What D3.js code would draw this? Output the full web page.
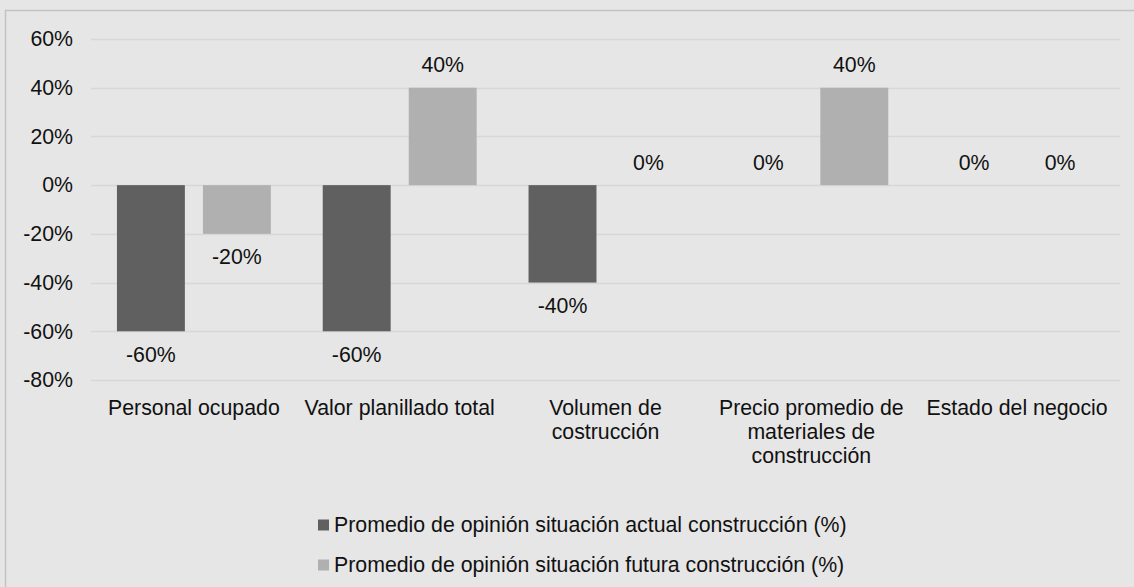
<!DOCTYPE html>
<html>
<head>
<meta charset="utf-8">
<script src="https://cdn.jsdelivr.net/npm/d3@7"></script>
<style>
  body { margin: 0; background: #e6e6e6; }
  svg { display: block; font-family: "Liberation Sans", Arial, sans-serif; }
</style>
</head>
<body>
<div id="chart"></div>
<script>
// data
var categories = ["Personal ocupado", "Valor planillado total", "Volumen de costrucción",
                  "Precio promedio de materiales de construcción", "Estado del negocio"];
var seriesNames = ["Promedio de opinión situación actual construcción (%)",
                   "Promedio de opinión situación futura construcción (%)"];
var actual = [-60, -60, -40, 0, 0];
var futura = [-20, 40, 0, 40, 0];
var yTicks = [-80, -60, -40, -20, 0, 20, 40, 60];

var palette = ["#606060", "#b0b0b0"];
var fs = 21.3;

var W = 1134, H = 587;
var plot = {left: 91, right: 1120, top: 39, bottom: 380};

var svg = d3.select("#chart").append("svg")
  .attr("width", W).attr("height", H);

// background + border (only top/left visible in the crop)
svg.append("rect").attr("x", 0).attr("y", 0).attr("width", W).attr("height", H).attr("fill", "#e6e6e6");
svg.append("path").attr("d", "M5.5," + H + "V10.5H" + W)
  .attr("fill", "none").attr("stroke", "#c3c3c3").attr("stroke-width", 1.5);

var x0 = d3.scaleBand().domain(categories).range([plot.left, plot.right]);
var bw = x0.bandwidth();
var x1 = d3.scaleBand().domain([0, 1]).range([bw * 0.126, bw * 0.874]).paddingInner(0.21);
var y = d3.scaleLinear().domain([-80, 60]).range([plot.bottom, plot.top]);

// gridlines
svg.append("g").selectAll("line").data(yTicks).enter().append("line")
  .attr("x1", plot.left).attr("x2", plot.right)
  .attr("y1", function(d){ return Math.round(y(d)) + 0.5; })
  .attr("y2", function(d){ return Math.round(y(d)) + 0.5; })
  .attr("stroke", "#d7d7d7").attr("stroke-width", 1.5);

// y axis labels
var yAxis = svg.append("g")
  .attr("transform", "translate(" + (plot.left - 18) + ",0)")
  .call(d3.axisLeft(y).tickValues(yTicks).tickSize(0).tickFormat(function(d){ return d + "%"; }));
yAxis.select(".domain").remove();
yAxis.selectAll("text").attr("font-size", fs).attr("fill", "#111")
  .attr("font-family", "Liberation Sans, Arial, sans-serif").attr("x", 0);

// bars
var rows = [];
categories.forEach(function(c, i) {
  rows.push({cat: c, s: 0, v: actual[i]});
  rows.push({cat: c, s: 1, v: futura[i]});
});

svg.append("g").selectAll("rect").data(rows).enter().append("rect")
  .attr("x", function(d){ return x0(d.cat) + x1(d.s); })
  .attr("width", x1.bandwidth())
  .attr("y", function(d){ return y(Math.max(0, d.v)); })
  .attr("height", function(d){ return Math.abs(y(d.v) - y(0)); })
  .attr("fill", function(d){ return palette[d.s]; });

// value labels
svg.append("g").selectAll("text").data(rows).enter().append("text")
  .attr("x", function(d){ return x0(d.cat) + x1(d.s) + x1.bandwidth() / 2; })
  .attr("y", function(d){ return d.v < 0 ? y(d.v) + 23 : y(d.v) - 23; })
  .attr("dy", "0.35em")
  .attr("text-anchor", "middle")
  .attr("font-size", fs).attr("fill", "#111")
  .text(function(d){ return d.v + "%"; });

// category labels, wrapped to the band width
var catG = svg.append("g").selectAll("text").data(categories).enter().append("text")
  .attr("text-anchor", "middle")
  .attr("font-size", fs).attr("fill", "#111")
  .attr("x", function(d){ return x0(d) + bw / 2; })
  .attr("y", 408)
  .attr("dy", "0.35em");

catG.each(function(d) {
  var t = d3.select(this), words = d.split(" "), line = [], lines = [];
  var probe = t.append("tspan");
  words.forEach(function(w) {
    line.push(w);
    probe.text(line.join(" "));
    if (probe.node().getComputedTextLength() > bw - 4 && line.length > 1) {
      line.pop();
      lines.push(line.join(" "));
      line = [w];
    }
  });
  lines.push(line.join(" "));
  probe.remove();
  lines.forEach(function(l, i) {
    t.append("tspan").attr("x", x0(d) + bw / 2).attr("dy", i === 0 ? "0.35em" : 24).text(l);
  });
});

// legend
var legend = svg.append("g").selectAll("g").data(seriesNames).enter().append("g")
  .attr("transform", function(d, i){ return "translate(318," + (525 + 40 * i) + ")"; });
legend.append("rect")
  .attr("x", 0).attr("y", -5.5).attr("width", 11).attr("height", 11)
  .attr("fill", function(d, i){ return palette[i]; });
legend.append("text")
  .attr("x", 16).attr("dy", "0.35em")
  .attr("font-size", fs).attr("fill", "#111")
  .text(function(d){ return d; });
</script>
</body>
</html>
